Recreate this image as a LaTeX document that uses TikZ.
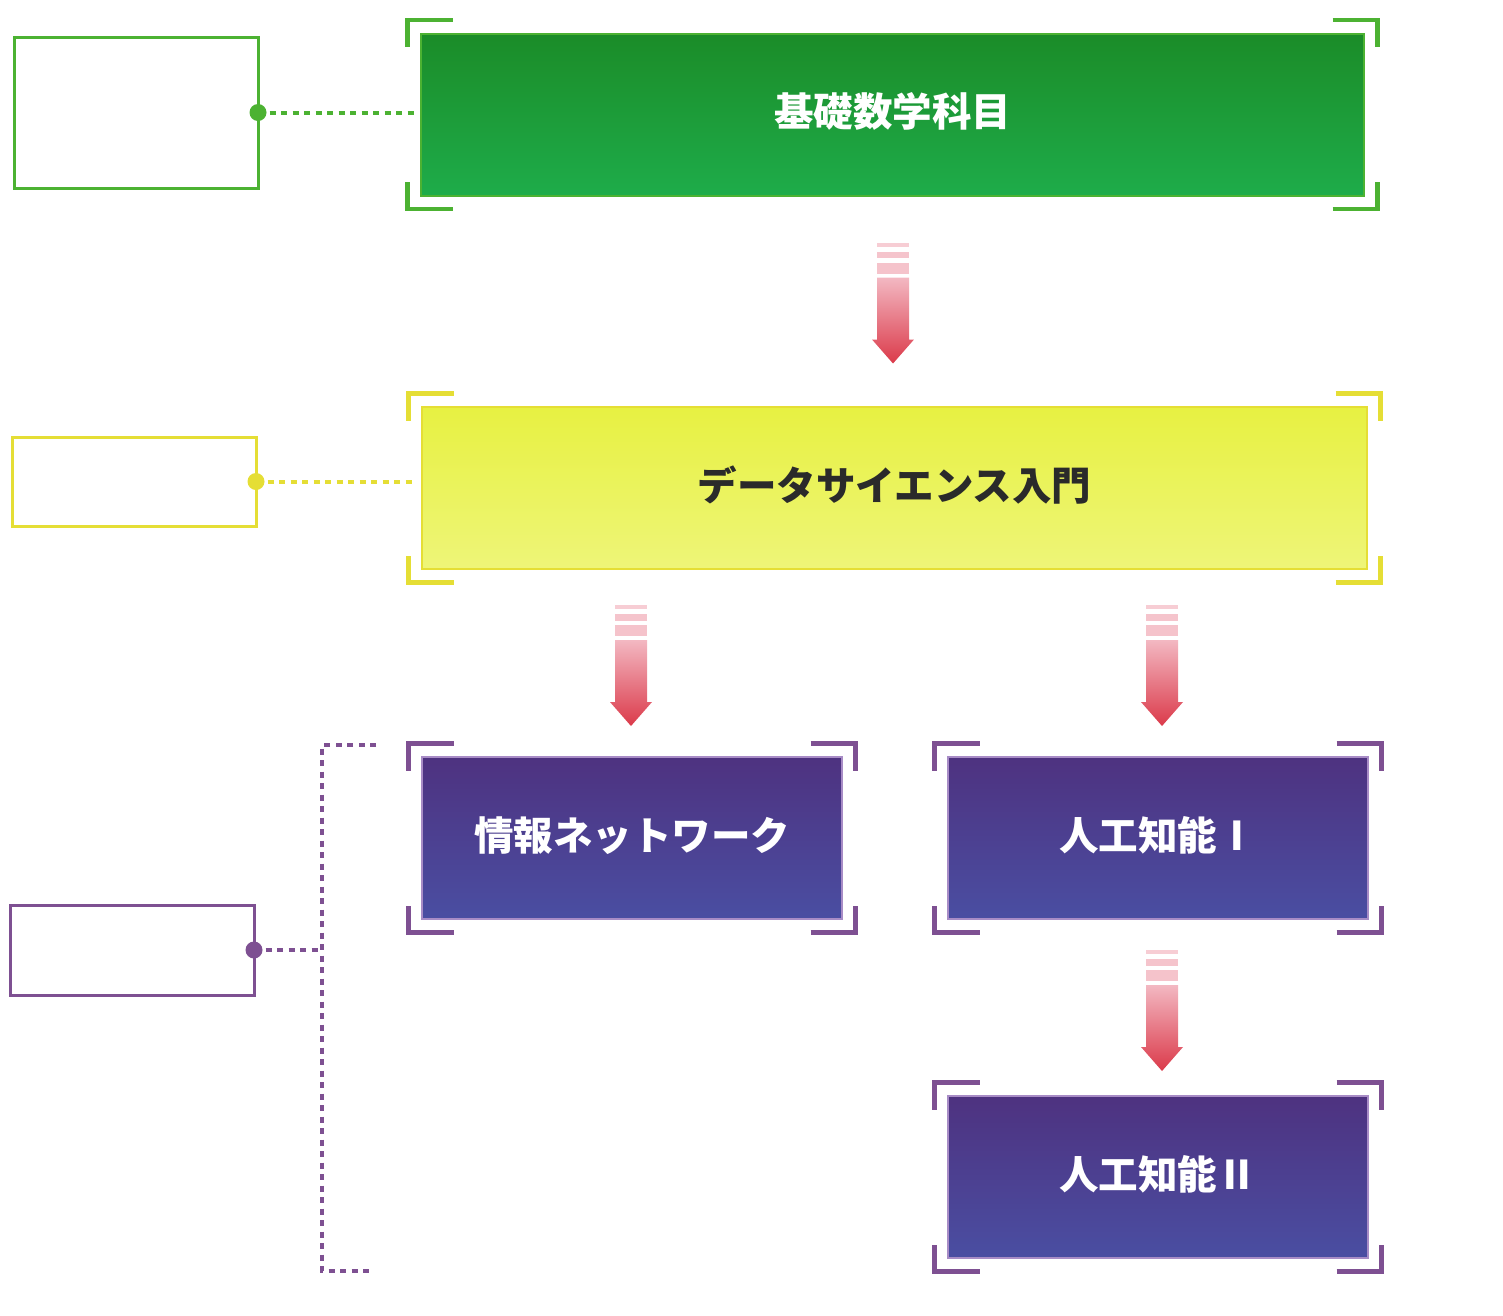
\documentclass[tikz,border=0pt]{standalone}
\usepackage{fontspec}
\newfontfamily\cjk{Noto Sans CJK JP}
\usetikzlibrary{calc}
\definecolor{grnline}{RGB}{76,178,50}
\definecolor{grntop}{RGB}{27,140,40}
\definecolor{grnbot}{RGB}{30,172,74}
\definecolor{ylwline}{RGB}{229,222,53}
\definecolor{ylwtop}{RGB}{231,241,66}
\definecolor{ylwbot}{RGB}{238,245,120}
\definecolor{prpline}{RGB}{126,80,146}
\definecolor{prpedge}{RGB}{168,140,198}
\definecolor{prptop}{RGB}{78,50,128}
\definecolor{prpbot}{RGB}{74,78,162}
\definecolor{arrtop}{RGB}{243,184,194}
\definecolor{arrbot}{RGB}{219,58,74}
\definecolor{stripe}{RGB}{245,196,204}
\definecolor{txtdark}{RGB}{42,42,42}
\tikzset{
    banner/.style={minimum height=162, inner sep=0, line width=2,
        text height=35, text depth=11,
        font=\cjk\bfseries\fontsize{39.5}{41}\selectfont},
    labelbox/.style={draw, line width=3, minimum width=244, outer sep=0, inner sep=0},
    bracket/.style={line width=4.5, line cap=butt, line join=miter},
    dots/.style={line width=4, dash pattern=on 6 off 5.5},
}
\newcommand{\corners}[2]{%
    \draw[bracket,#2] ([shift={(32.5,-12.5)}]#1.north west) -- ++(-45,0) -- ++(0,27);
    \draw[bracket,#2] ([shift={(-32.5,-12.5)}]#1.north east) -- ++(45,0) -- ++(0,27);
    \draw[bracket,#2] ([shift={(32.5,12.5)}]#1.south west) -- ++(-45,0) -- ++(0,-27);
    \draw[bracket,#2] ([shift={(-32.5,12.5)}]#1.south east) -- ++(45,0) -- ++(0,-27);
}
\newcommand{\blockarrow}[1]{%
    \begin{scope}[shift={#1}]
        \fill[stripe!85] (-16,0) rectangle (16,4);
        \fill[stripe] (-16,9) rectangle (16,15.5);
        \fill[stripe!90!arrtop] (-16,20) rectangle (16,31);
        \shade[top color=arrtop, bottom color=arrbot] (-16,35) -- (16,35) -- (16,97)
            -- (21,97) -- (0,121) -- (-21,97) -- (-16,97) -- cycle;
    \end{scope}
}

\begin{document}
\begin{tikzpicture}[x=1pt, y=-1pt]
    \useasboundingbox (0,0) rectangle (1503,1315);

    \node[banner, minimum width=943, draw=grnline, top color=grntop, bottom color=grnbot,
        text=white] (kiso) at (892.5,114.5) {基礎数学科目};
    \node[banner, minimum width=945, draw=ylwline, top color=ylwtop, bottom color=ylwbot,
        text=txtdark] (dsi) at (894.5,488) {データサイエンス入門};
    \node[banner, minimum width=420, draw=prpedge, top color=prptop, bottom color=prpbot,
        text=white] (net) at (632,838) {情報ネットワーク};
    \node[banner, minimum width=420, draw=prpedge, top color=prptop, bottom color=prpbot,
        text=white] (ai1) at (1158,838) {人工知能Ⅰ};
    \node[banner, minimum width=420, draw=prpedge, top color=prptop, bottom color=prpbot,
        text=white] (ai2) at (1158,1177) {人工知能Ⅱ};

    \corners{kiso}{grnline}
    \corners{dsi}{ylwline}
    \corners{net}{prpline}
    \corners{ai1}{prpline}
    \corners{ai2}{prpline}

    \blockarrow{($(kiso.south)+(0.5,46)$)}
    \blockarrow{($(net.north)+(-1,-151)$)}
    \blockarrow{($(ai1.north)+(4,-151)$)}
    \blockarrow{($(ai1.south)+(4,30)$)}

    \node[labelbox, draw=grnline, minimum height=151] (kisoL) at (136,112.5) {};
    \node[labelbox, draw=ylwline, minimum height=89] (dsiL) at (134,481.5) {};
    \node[labelbox, draw=prpline, minimum height=90] (prpL) at (132,950) {};

    \draw[dots, grnline, shorten >=6] (kisoL.east) -- (kisoL.east -| kiso.west);
    \draw[dots, ylwline, shorten >=6] (dsiL.east) -- (dsiL.east -| dsi.west);
    \coordinate (spine) at (322,950);
    \coordinate (railtop) at (376,745);
    \coordinate (railbot) at (374,1271);
    \draw[dots, prpline] (prpL.east) -- (spine);
    \draw[dots, prpline] (railtop) -- (railtop -| spine) -- (railbot -| spine) -- (railbot);

    \fill[grnline] (kisoL.east) circle (8.5);
    \fill[ylwline] (dsiL.east) circle (8.5);
    \fill[prpline] (prpL.east) circle (8.5);
\end{tikzpicture}
\end{document}
